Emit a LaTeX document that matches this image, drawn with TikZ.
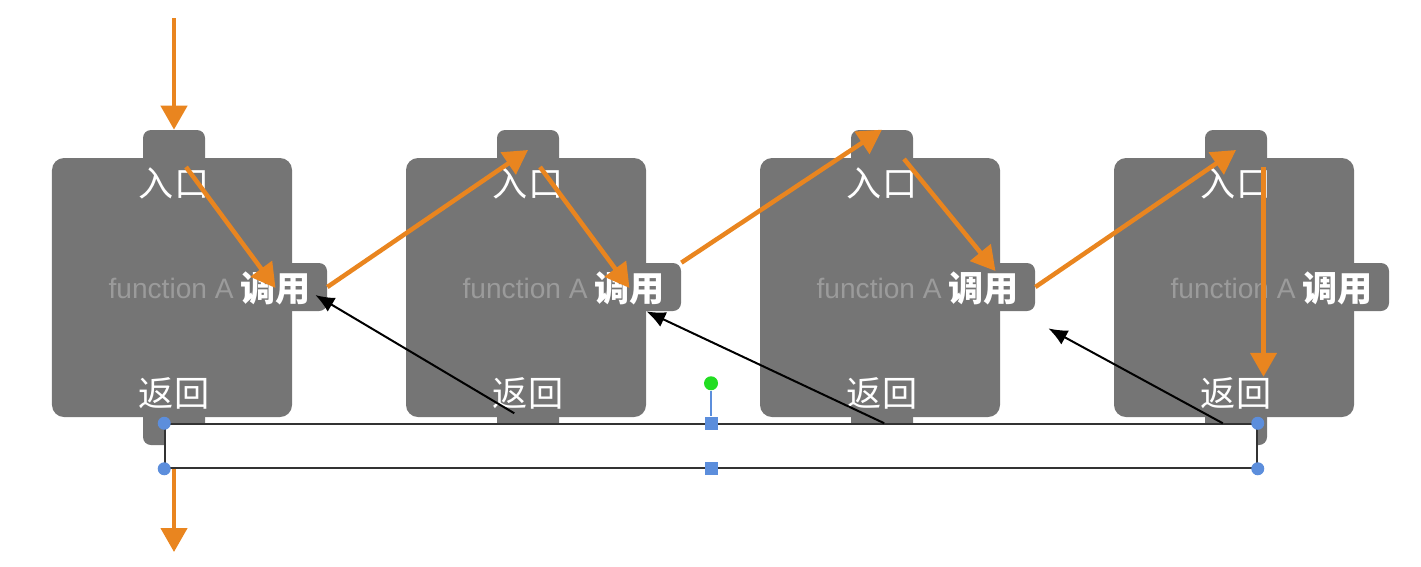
\documentclass[tikz,border=0pt]{standalone}
\usepackage{fontspec}
\setmainfont{Liberation Sans}
\newfontfamily\cjk{Noto Sans CJK SC}
\usetikzlibrary{calc,arrows.meta,positioning}

\definecolor{blockgray}{RGB}{117,117,117}
\definecolor{flow}{RGB}{233,133,31}
\definecolor{handle}{RGB}{92,142,220}
\definecolor{rot}{RGB}{34,221,34}
\definecolor{fntext}{RGB}{155,155,155}

\tikzset{
  body/.style={fill=blockgray, rounded corners=2.4mm, minimum width=48mm, minimum height=51.8mm, inner sep=0pt},
  tab/.style={fill=blockgray, rounded corners=1.6mm, inner sep=0pt},
  zh/.style={text=white, font=\cjk\fontsize{20pt}{20pt}\selectfont, inner sep=0pt},
  fn/.style={text=fntext, font=\fontsize{16pt}{16pt}\selectfont, inner sep=0pt},
  flowarrow/.style={draw=flow, line width=0.9mm, -{Triangle[length=4.8mm,width=5.2mm]}},
  backarrow/.style={draw=black, line width=0.4mm, -{Latex[length=3.8mm,width=3.2mm]}},
  cornerdot/.style={circle, fill=handle, minimum size=2.6mm, inner sep=0pt},
  sidedot/.style={rectangle, fill=handle, minimum size=2.6mm, inner sep=0pt},
}

\begin{document}
\begin{tikzpicture}[x=0.2mm,y=-0.2mm]
  \useasboundingbox (0,0) rectangle (1421,566);

  % four copies of the function
  \foreach \i/\l in {1/52,2/406,3/760,4/1114} {
    \node[tab, minimum width=12.4mm, minimum height=8mm] (in\i) at (\l+122,150) {};
    \node[tab, minimum width=12.4mm, minimum height=8mm] (rt\i) at (\l+122,425) {};
    \node[tab, minimum width=10mm, minimum height=9.6mm] (call\i) at (\l+250,287) {};
    \node[body] (box\i) at (\l+120,287.5) {};
    \node[zh] (ent\i) at (\l+122,183) {入口};
    \node[zh] (ret\i) at (\l+122,393) {返回};
    \node[zh, font=\cjk\bfseries\fontsize{20pt}{20pt}\selectfont, anchor=west] (callt\i) at (\l+188,288) {调用};
    \node[fn, left=1.2mm of callt\i] (fn\i) {function A};
  }

  \coordinate (entry) at (174,18);
  \coordinate (exit) at (174,552);
  \coordinate (down) at ($(ent4.north east)+(-8,0)$);

  \path (entry)                      edge[flowarrow] (in1.north)
        ($(ent1.north)+(12,0)$)      edge[flowarrow] (callt1.center)
        (call1.east)                 edge[flowarrow] (in2.center)
        ($(ent2.north)+(12,0)$)      edge[flowarrow] (callt2.center)
        (call2.north east)           edge[flowarrow] (in3.north)
        ($(ent3.north)+(22,-8)$)     edge[flowarrow] ($(callt3.north)+(12,0)$)
        (call3.east)                 edge[flowarrow] (in4.center)
        (down)                       edge[flowarrow] (down |- ret4.north)
        (rt1.center)                 edge[flowarrow] (exit);

  % selected text box
  \node[draw=black!80, fill=white, line width=0.3mm, minimum width=218.4mm, minimum height=8.8mm, inner sep=0pt] (bar) at (711,446) {};

  \coordinate (b1) at ($(bar.north west)+(350,-10)$);
  \coordinate (b2) at ($(bar.north west)+(720,0)$);
  \coordinate (b3) at ($(bar.north east)+(-35,0)$);

  \path (b1) edge[backarrow] ($(call1.east)+(-12,8)$)
        (b2) edge[backarrow] (box2.east |- call2.south)
        (b3) edge[backarrow] ($(call3.south east)+(13,17)$);

  \foreach \a in {north west,north east,south west,south east} {\node[cornerdot] at (bar.\a) {};};
  \node[sidedot] (hn) at (bar.north) {};
  \node[sidedot] (hs) at (bar.south) {};
  \node[circle, fill=rot, minimum size=2.8mm, inner sep=0pt] (spin) at ($(bar.north)+(0,-40)$) {};
  \draw[handle, line width=0.3mm] (spin) -- (hn);
\end{tikzpicture}
\end{document}
